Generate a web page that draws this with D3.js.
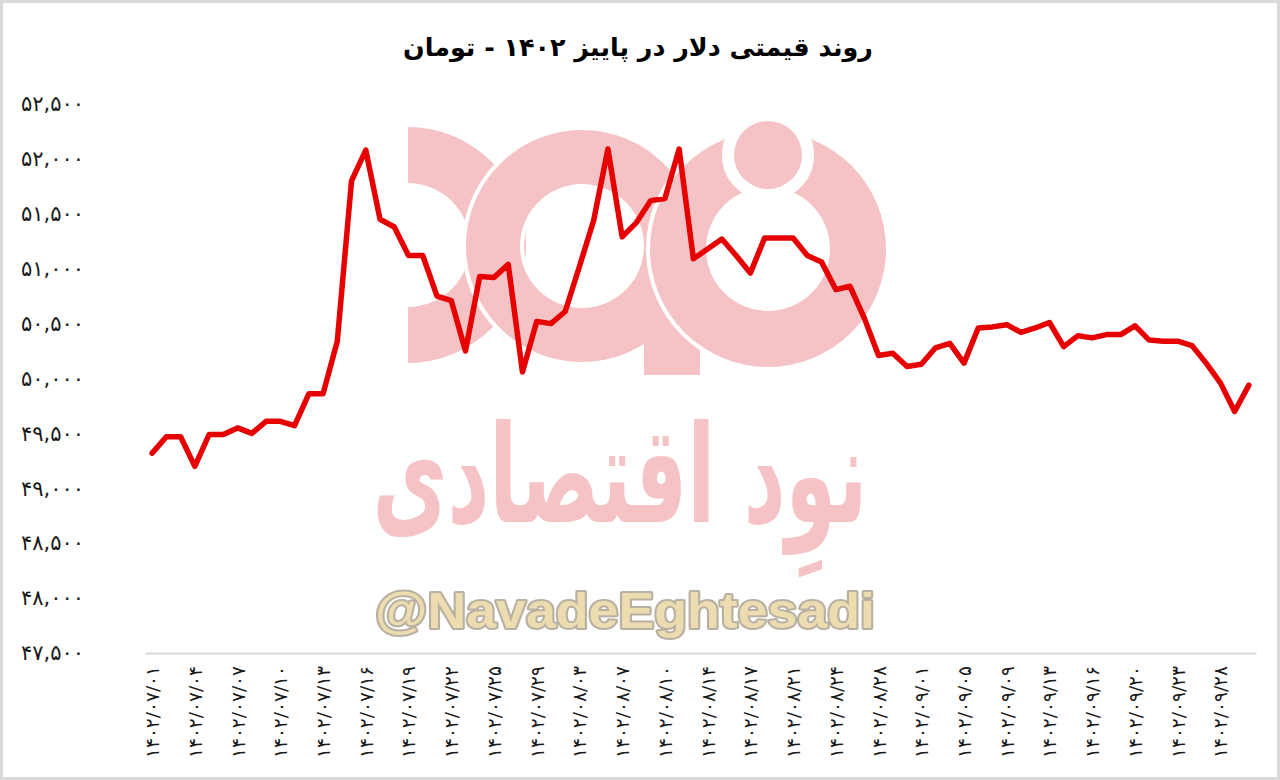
<!DOCTYPE html>
<html><head><meta charset="utf-8">
<script src="https://cdn.jsdelivr.net/npm/d3@7"></script>
<style>html,body{margin:0;padding:0;background:#fff;} svg{display:block;}</style>
</head><body>
<svg id="chart" width="1280" height="780"></svg>
<script>
const categories = [
"1402/07/01","1402/07/02","1402/07/03","1402/07/04","1402/07/05","1402/07/06","1402/07/07","1402/07/08","1402/07/09","1402/07/10",
"1402/07/11","1402/07/12","1402/07/13","1402/07/14","1402/07/15","1402/07/16","1402/07/17","1402/07/18","1402/07/19","1402/07/20",
"1402/07/21","1402/07/22","1402/07/23","1402/07/24","1402/07/25","1402/07/26","1402/07/27","1402/07/29","1402/07/30","1402/08/01",
"1402/08/03","1402/08/04","1402/08/06","1402/08/07","1402/08/08","1402/08/09","1402/08/10","1402/08/11","1402/08/13","1402/08/14",
"1402/08/15","1402/08/16","1402/08/17","1402/08/18","1402/08/20","1402/08/21","1402/08/22","1402/08/23","1402/08/24","1402/08/25",
"1402/08/27","1402/08/28","1402/08/29","1402/08/30","1402/09/01","1402/09/02","1402/09/04","1402/09/05","1402/09/06","1402/09/07",
"1402/09/09","1402/09/11","1402/09/12","1402/09/13","1402/09/14","1402/09/15","1402/09/16","1402/09/18","1402/09/19","1402/09/20",
"1402/09/21","1402/09/22","1402/09/23","1402/09/25","1402/09/26","1402/09/28","1402/09/29","1402/09/30"
];
const prices = [
49320,49470,49470,49200,49490,49490,49550,49500,49610,49610,
49570,49860,49860,50340,51800,52080,51450,51380,51120,51120,
50750,50710,50250,50930,50920,51040,50060,50520,50500,50610,
51020,51440,52090,51290,51420,51620,51640,52090,51090,51180,
51270,51120,50960,51280,51280,51280,51120,51060,50810,50840,
50550,50210,50230,50110,50130,50280,50320,50140,50460,50470,
50490,50420,50460,50510,50290,50390,50370,50400,50400,50480,
50350,50340,50340,50300,50140,49960,49700,49940
];
const yTicks = [47500,48000,48500,49000,49500,50000,50500,51000,51500,52000,52500];
const labelStep = 3;
const titleText = "روند قیمتی دلار در پاییز ۱۴۰۲ - تومان";
const watermarkText = "نوِد اقتصادی";
const watermarkHandle = "@NavadeEghtesadi";

const fa = s => String(s).replace(/[0-9]/g, d => "۰۱۲۳۴۵۶۷۸۹"[+d]);
const W = 1280, H = 780;
const svg = d3.select("#chart");

svg.append("rect").attr("x",1.5).attr("y",1.5).attr("width",W-3).attr("height",H-3)
  .attr("fill","#fff").attr("stroke","#d9d9d9").attr("stroke-width",3);

const x = d3.scalePoint().domain(categories).range([145,1256]).padding(0.5);
const y = d3.scaleLinear().domain([47500,52500]).range([653,104]);

// ---- watermark ----
const pink = "#f5c3c5";
const wm = svg.append("g");
const arc = d3.arc();
wm.append("path").attr("transform","translate(408,245)")
  .attr("d", arc({innerRadius:62, outerRadius:118, startAngle:0, endAngle:Math.PI}))
  .attr("fill", pink);
wm.append("path").attr("transform","translate(582,246)")
  .attr("d", arc({innerRadius:62, outerRadius:116, startAngle:0, endAngle:2*Math.PI}) + "M62,0H118V129H62Z")
  .attr("fill", pink).attr("stroke","#fff").attr("stroke-width",8).attr("paint-order","stroke");
wm.append("path").attr("transform","translate(768,249)")
  .attr("d", arc({innerRadius:62, outerRadius:118, startAngle:0, endAngle:2*Math.PI}))
  .attr("fill", pink).attr("stroke","#fff").attr("stroke-width",8).attr("paint-order","stroke");
wm.append("circle").attr("cx",768).attr("cy",155).attr("r",34)
  .attr("fill", pink).attr("stroke","#fff").attr("stroke-width",24).attr("paint-order","stroke");

function fitWidth(t, cx, cy, width) {
  const len = t.node().getComputedTextLength();
  const s = width / len;
  t.attr("x",0).attr("y",0).attr("text-anchor","middle")
   .attr("transform", `translate(${cx},${cy}) scale(${s},1)`);
}
const wt = wm.append("text").text(watermarkText)
  .attr("font-family","DejaVu Sans").attr("font-weight","bold").attr("font-size",136)
  .attr("fill",pink).attr("direction","rtl");
fitWidth(wt, 620, 522, 495);

const ht = wm.append("text").text(watermarkHandle)
  .attr("font-family","Liberation Sans, Arial, sans-serif").attr("font-weight","bold")
  .attr("font-size",50).attr("fill","#ecdcb0").attr("stroke","#b8b1a3").attr("stroke-width",4)
  .attr("paint-order","stroke").attr("stroke-linejoin","round");
fitWidth(ht, 625, 628, 500);

// ---- title ----
const tt = svg.append("text").text(titleText)
  .attr("font-family","DejaVu Sans").attr("font-weight","bold").attr("font-size",24)
  .attr("fill","#000").attr("direction","rtl").attr("text-anchor","middle");
{
  const len = tt.node().getComputedTextLength();
  tt.attr("font-size", 24 * 470 / len);
  tt.attr("x", 638).attr("y", 56);
}

// ---- axes ----
const yAxis = d3.axisLeft(y).tickValues(yTicks).tickSize(0).tickPadding(0)
  .tickFormat(d => fa(d3.format(",")(d)));
const gy = svg.append("g").attr("transform","translate(84,0)").call(yAxis);
gy.select(".domain").remove();
gy.selectAll("text").attr("font-family","DejaVu Sans").attr("font-size",21).attr("fill","#1a1a1a");

const xAxis = d3.axisBottom(x).tickValues(categories.filter((d,i) => i % labelStep === 0))
  .tickSize(0).tickSizeOuter(0).tickFormat(d => fa(d));
const gx = svg.append("g").attr("transform",`translate(0,${y(47500)})`).call(xAxis);
gx.select(".domain").attr("stroke","#d9d9d9").attr("stroke-width",2);
gx.selectAll("text").attr("font-family","DejaVu Sans").attr("font-size",18.5).attr("fill","#1a1a1a")
  .attr("transform","rotate(-90)").attr("x",-13).attr("y",0).attr("dy","0.35em")
  .style("text-anchor","end");

// ---- line ----
const line = d3.line().x((d,i) => x(categories[i])).y(d => y(d));
svg.append("path").datum(prices).attr("d", line).attr("fill","none")
  .attr("stroke","#e60000").attr("stroke-width",5.5)
  .attr("stroke-linejoin","round").attr("stroke-linecap","round");
</script>
</body></html>
